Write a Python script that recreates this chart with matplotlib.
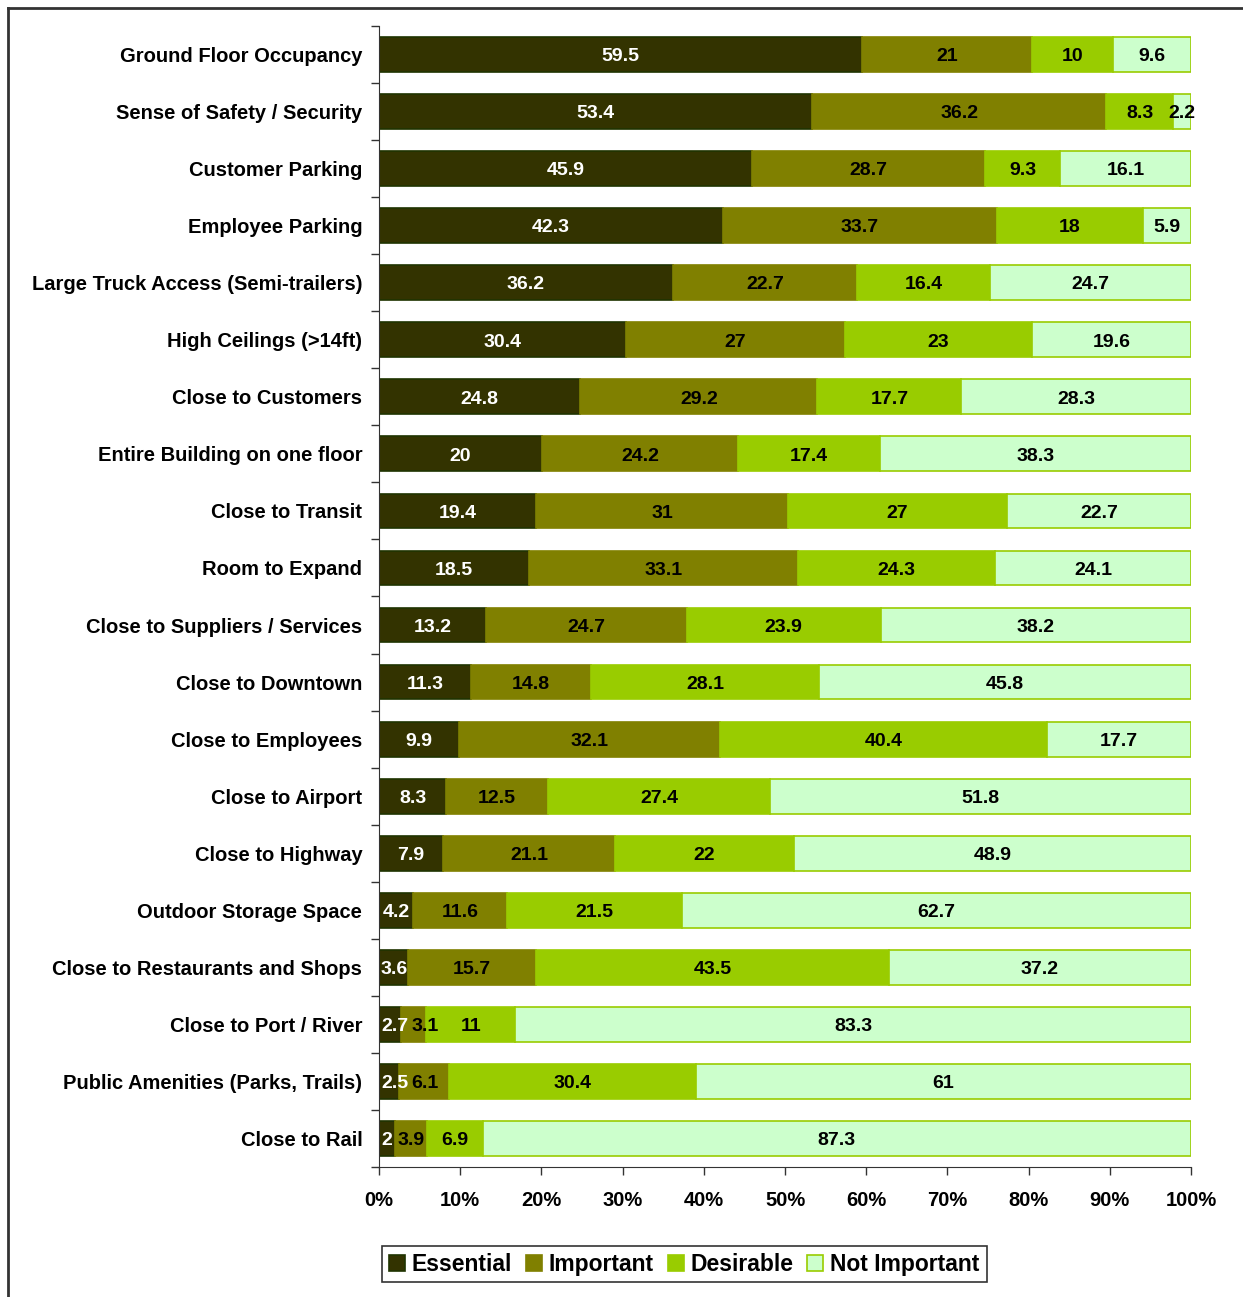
import matplotlib
matplotlib.use("Agg")
import matplotlib.pyplot as plt
from matplotlib.lines import Line2D
import numpy as np

plt.rcParams['font.family'] = ['Liberation Sans', 'DejaVu Sans']

categories = [
    "Ground Floor Occupancy",
    "Sense of Safety / Security",
    "Customer Parking",
    "Employee Parking",
    "Large Truck Access (Semi-trailers)",
    "High Ceilings (>14ft)",
    "Close to Customers",
    "Entire Building on one floor",
    "Close to Transit",
    "Room to Expand",
    "Close to Suppliers / Services",
    "Close to Downtown",
    "Close to Employees",
    "Close to Airport",
    "Close to Highway",
    "Outdoor Storage Space",
    "Close to Restaurants and Shops",
    "Close to Port / River",
    "Public Amenities (Parks, Trails)",
    "Close to Rail",
]

essential = [59.5, 53.4, 45.9, 42.3, 36.2, 30.4, 24.8, 20, 19.4, 18.5,
             13.2, 11.3, 9.9, 8.3, 7.9, 4.2, 3.6, 2.7, 2.5, 2]
important = [21, 36.2, 28.7, 33.7, 22.7, 27, 29.2, 24.2, 31, 33.1,
             24.7, 14.8, 32.1, 12.5, 21.1, 11.6, 15.7, 3.1, 6.1, 3.9]
desirable = [10, 8.3, 9.3, 18, 16.4, 23, 17.7, 17.4, 27, 24.3,
             23.9, 28.1, 40.4, 27.4, 22, 21.5, 43.5, 11, 30.4, 6.9]
not_important = [9.6, 2.2, 16.1, 5.9, 24.7, 19.6, 28.3, 38.3, 22.7, 24.1,
                 38.2, 45.8, 17.7, 51.8, 48.9, 62.7, 37.2, 83.3, 61, 87.3]

series = ["Essential", "Important", "Desirable", "Not Important"]
faces = ["#333300", "#808000", "#99CC00", "#CCFFCC"]
edges = ["#1f3300", "#808000", "#99CC00", "#99CC00"]
text_colors = ["white", "black", "black", "black"]

vals = np.array([essential, important, desirable, not_important], dtype=float)
pct = vals / vals.sum(axis=0) * 100

fig = plt.figure(figsize=(12.43, 12.97), dpi=100)
ax = fig.add_axes([0.3049, 0.1002, 0.6533, 0.8798])

y = np.arange(len(categories))
left = np.zeros(len(categories))
handles = []
row_texts = [[] for _ in categories]
for i, name in enumerate(series):
    bars = ax.barh(y, pct[i], left=left, height=0.61, color=faces[i],
                   edgecolor=edges[i], linewidth=1.2, label=name)
    handles.append(bars)
    for j in range(len(categories)):
        lab = f"{vals[i, j]:g}"
        t = ax.text(left[j] + pct[i, j] / 2, y[j] + 0.04, lab, ha="center",
                    va="center", color=text_colors[i], fontsize=14,
                    fontweight="bold")
        row_texts[j].append(t)
    left = left + pct[i]

ax.set_xlim(0, 100)
ax.set_ylim(len(categories) - 0.5, -0.5)
ax.set_xticks(np.arange(0, 101, 10))
ax.set_xticklabels([f"{t}%" for t in range(0, 101, 10)], fontsize=14.5,
                   fontweight="bold")
ax.set_yticks(y)
ax.set_yticklabels(categories, fontsize=14.5, fontweight="bold")
ax.set_yticks(np.arange(-0.5, len(categories), 1), minor=True)
ax.tick_params(axis="y", which="major", length=0, pad=12)
ax.tick_params(axis="y", which="minor", length=6, width=1, color="#333333")
ax.tick_params(axis="x", which="major", length=6, width=1, pad=11,
               color="#333333")
for s in ["top", "right"]:
    ax.spines[s].set_visible(False)
ax.spines["left"].set_color("#333333")
ax.spines["bottom"].set_color("#333333")

# nudge crowded labels at the left end so they don't overlap (like Excel)
fig.canvas.draw()
r = fig.canvas.get_renderer()
px_per_unit = ax.transData.transform((1, 0))[0] - ax.transData.transform((0, 0))[0]
ax_left = ax.transData.transform((0, 0))[0]
for texts in row_texts:
    prev_right = ax_left + 2
    for t in texts:
        bb = t.get_window_extent(r)
        shift = max(0, prev_right + 3 - bb.x0) if t is not texts[0] else max(0, prev_right - bb.x0)
        if shift > 0:
            x, yy = t.get_position()
            t.set_position((x + shift / px_per_unit, yy))
        prev_right = bb.x1 + shift

leg = fig.legend(handles=handles, loc="center", bbox_to_anchor=(0.5505, 0.0254),
                 ncol=4, prop={"weight": "bold", "size": 16.5},
                 frameon=True, fancybox=False, handlelength=0.7,
                 handleheight=0.7, handletextpad=0.3, columnspacing=0.6,
                 borderpad=0.3)
leg.get_frame().set_edgecolor("black")
leg.get_frame().set_linewidth(1.2)

# outer frame (only left and top edges visible in the picture)
fig.add_artist(Line2D([0.0068, 0.0068], [0, 0.9938], color="#333333",
                      linewidth=2, transform=fig.transFigure))
fig.add_artist(Line2D([0.0068, 1.0], [0.9938, 0.9938], color="#333333",
                      linewidth=2, transform=fig.transFigure))

fig.savefig("out.png", dpi=100, facecolor="white")
